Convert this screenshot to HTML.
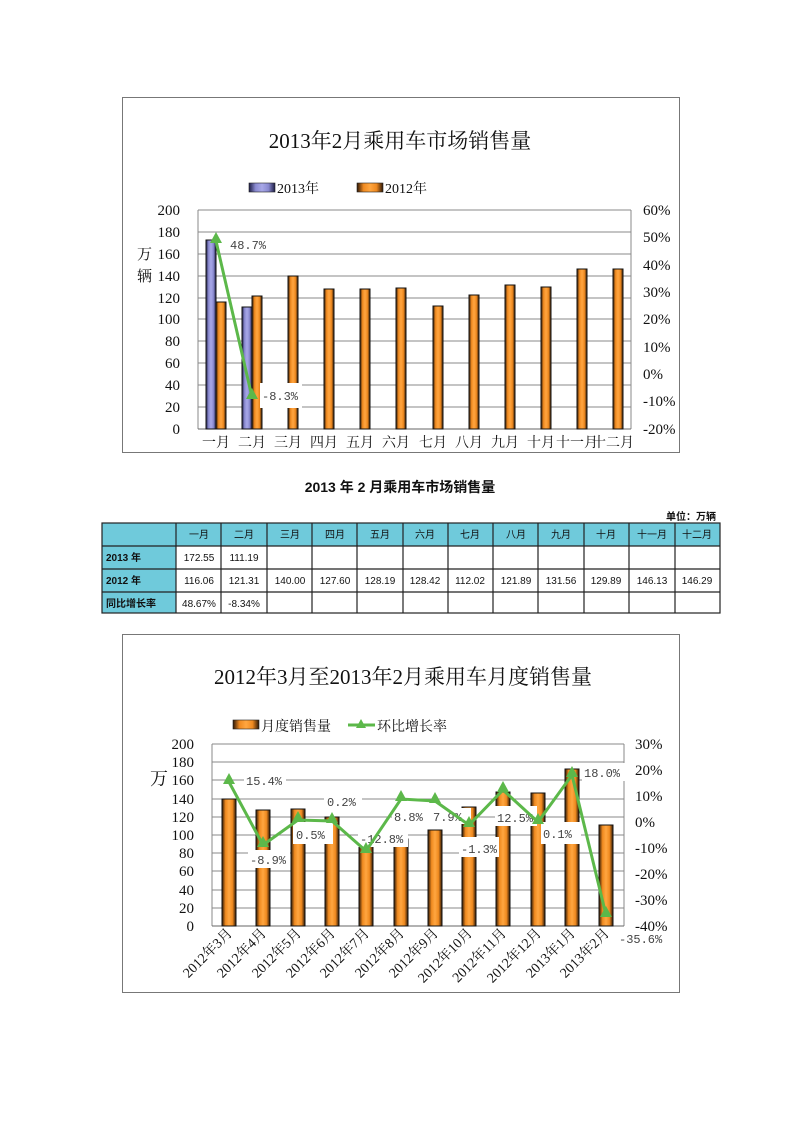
<!DOCTYPE html>
<html><head><meta charset="utf-8"><style>
body{margin:0;background:#fff;}
svg{display:block;}
text{font-family:"Liberation Serif","Noto Serif CJK SC",serif;fill:#111;}
.s,.s text{font-family:"Liberation Sans","Noto Sans CJK SC",sans-serif;}
.m,.m text{font-family:"Liberation Mono",monospace;fill:#444;}
</style></head><body>
<svg width="800" height="1132" viewBox="0 0 800 1132" xmlns="http://www.w3.org/2000/svg">
<defs>
<linearGradient id="og" x1="0" x2="1" y1="0" y2="0"><stop offset="0" stop-color="#2a1606"/><stop offset="0.25" stop-color="#f08a20"/><stop offset="0.5" stop-color="#ffa640"/><stop offset="0.75" stop-color="#f08a20"/><stop offset="1" stop-color="#2a1606"/></linearGradient>
<linearGradient id="bg" x1="0" x2="1" y1="0" y2="0"><stop offset="0" stop-color="#1c1c44"/><stop offset="0.25" stop-color="#8a8ad0"/><stop offset="0.5" stop-color="#a8a8e8"/><stop offset="0.75" stop-color="#8a8ad0"/><stop offset="1" stop-color="#1c1c44"/></linearGradient>
</defs>
<!-- Chart 1 -->
<rect x="122.5" y="97.5" width="557" height="355" fill="#fff" stroke="#777"/>
<text x="400" y="148" font-size="21" text-anchor="middle">2013年2月乘用车市场销售量</text>
<rect x="249" y="183" width="26" height="9" fill="url(#bg)" stroke="#222" stroke-width="0.6"/>
<text x="277" y="193" font-size="14">2013年</text>
<rect x="357" y="183" width="26" height="9" fill="url(#og)" stroke="#222" stroke-width="0.6"/>
<text x="385" y="193" font-size="14">2012年</text>
<g stroke="#888" stroke-width="1">
<line x1="198" x2="631" y1="210" y2="210"/><line x1="198" x2="631" y1="232" y2="232"/><line x1="198" x2="631" y1="254" y2="254"/><line x1="198" x2="631" y1="276" y2="276"/><line x1="198" x2="631" y1="298" y2="298"/><line x1="198" x2="631" y1="319" y2="319"/><line x1="198" x2="631" y1="341" y2="341"/><line x1="198" x2="631" y1="363" y2="363"/><line x1="198" x2="631" y1="385" y2="385"/><line x1="198" x2="631" y1="407" y2="407"/>
<line x1="198" x2="198" y1="210" y2="429"/><line x1="631" x2="631" y1="210" y2="429"/>
</g>
<line x1="198" x2="631" y1="429" y2="429" stroke="#666"/>
<g stroke="#111" stroke-width="1">
<rect x="206" y="240" width="10" height="189" fill="url(#bg)"/>
<rect x="242" y="307" width="10" height="122" fill="url(#bg)"/>
<rect x="216" y="302" width="10" height="127" fill="url(#og)"/>
<rect x="252" y="296" width="10" height="133" fill="url(#og)"/>
<rect x="288" y="276" width="10" height="153" fill="url(#og)"/>
<rect x="324" y="289" width="10" height="140" fill="url(#og)"/>
<rect x="360" y="289" width="10" height="140" fill="url(#og)"/>
<rect x="396" y="288" width="10" height="141" fill="url(#og)"/>
<rect x="433" y="306" width="10" height="123" fill="url(#og)"/>
<rect x="469" y="295" width="10" height="134" fill="url(#og)"/>
<rect x="505" y="285" width="10" height="144" fill="url(#og)"/>
<rect x="541" y="287" width="10" height="142" fill="url(#og)"/>
<rect x="577" y="269" width="10" height="160" fill="url(#og)"/>
<rect x="613" y="269" width="10" height="160" fill="url(#og)"/>
</g>
<rect x="226" y="236" width="48" height="16" fill="#fff"/>
<text x="230" y="249" font-size="12" class="m">48.7%</text>
<rect x="260" y="383" width="42" height="25" fill="#fff"/>
<text x="262" y="400" font-size="12" class="m">-8.3%</text>
<polyline points="216,241 252,397" fill="none" stroke="#5cb84a" stroke-width="3"/>
<polygon points="216,232 222,243 210,243" fill="#5cb84a"/>
<polygon points="252,388 258,399 246,399" fill="#5cb84a"/>
<g font-size="15" text-anchor="end">
<text x="180" y="215">200</text><text x="180" y="237">180</text><text x="180" y="259">160</text><text x="180" y="281">140</text><text x="180" y="303">120</text><text x="180" y="324">100</text><text x="180" y="346">80</text><text x="180" y="368">60</text><text x="180" y="390">40</text><text x="180" y="412">20</text><text x="180" y="434">0</text>
</g>
<text x="137" y="259" font-size="15">万</text><text x="137" y="281" font-size="15">辆</text>
<g font-size="15">
<text x="643" y="215">60%</text><text x="643" y="242">50%</text><text x="643" y="270">40%</text><text x="643" y="297">30%</text><text x="643" y="324">20%</text><text x="643" y="352">10%</text><text x="643" y="379">0%</text><text x="643" y="406">-10%</text><text x="643" y="434">-20%</text>
</g>
<g font-size="14" text-anchor="middle">
<text x="216" y="447">一月</text><text x="252" y="447">二月</text><text x="288" y="447">三月</text><text x="324" y="447">四月</text><text x="360" y="447">五月</text><text x="396" y="447">六月</text><text x="433" y="447">七月</text><text x="469" y="447">八月</text><text x="505" y="447">九月</text><text x="541" y="447">十月</text><text x="577" y="447">十一月</text><text x="613" y="447">十二月</text>
</g>
<!-- Table -->
<text x="400" y="492" font-size="14" font-weight="bold" text-anchor="middle" class="s">2013 年 2 月乘用车市场销售量</text>
<text x="716" y="520" font-size="10" font-weight="bold" text-anchor="end" class="s">单位：万辆</text>
<rect x="102" y="523" width="618" height="23" fill="#6fcadb"/>
<rect x="102" y="546" width="74" height="67" fill="#6fcadb"/>
<g stroke="#222" stroke-width="1.2" fill="none">
<rect x="102" y="523" width="618" height="90"/>
<line x1="102" x2="720" y1="546" y2="546"/><line x1="102" x2="720" y1="569" y2="569"/><line x1="102" x2="720" y1="592" y2="592"/>
<line x1="176" x2="176" y1="523" y2="613"/><line x1="221" x2="221" y1="523" y2="613"/><line x1="267" x2="267" y1="523" y2="613"/><line x1="312" x2="312" y1="523" y2="613"/><line x1="357" x2="357" y1="523" y2="613"/><line x1="403" x2="403" y1="523" y2="613"/><line x1="448" x2="448" y1="523" y2="613"/><line x1="493" x2="493" y1="523" y2="613"/><line x1="538" x2="538" y1="523" y2="613"/><line x1="584" x2="584" y1="523" y2="613"/><line x1="629" x2="629" y1="523" y2="613"/><line x1="675" x2="675" y1="523" y2="613"/>
</g>
<g font-size="10" class="s" text-anchor="middle">
<text x="199" y="538">一月</text><text x="244" y="538">二月</text><text x="290" y="538">三月</text><text x="335" y="538">四月</text><text x="380" y="538">五月</text><text x="425" y="538">六月</text><text x="470" y="538">七月</text><text x="516" y="538">八月</text><text x="561" y="538">九月</text><text x="606" y="538">十月</text><text x="652" y="538">十一月</text><text x="697" y="538">十二月</text>
</g>
<g font-size="10" class="s" font-weight="bold">
<text x="106" y="561">2013 年</text><text x="106" y="584">2012 年</text><text x="106" y="607">同比增长率</text>
</g>
<g font-size="10" class="s" text-anchor="middle">
<text x="199" y="561">172.55</text><text x="244" y="561">111.19</text>
<text x="199" y="584">116.06</text><text x="244" y="584">121.31</text><text x="290" y="584">140.00</text><text x="335" y="584">127.60</text><text x="380" y="584">128.19</text><text x="425" y="584">128.42</text><text x="470" y="584">112.02</text><text x="516" y="584">121.89</text><text x="561" y="584">131.56</text><text x="606" y="584">129.89</text><text x="652" y="584">146.13</text><text x="697" y="584">146.29</text>
<text x="199" y="607">48.67%</text><text x="244" y="607">-8.34%</text>
</g>
<!-- Chart 3 -->
<rect x="122.5" y="634.5" width="557" height="358" fill="#fff" stroke="#777"/>
<text x="403" y="684" font-size="21" text-anchor="middle">2012年3月至2013年2月乘用车月度销售量</text>
<rect x="233" y="720" width="26" height="9" fill="url(#og)" stroke="#222" stroke-width="0.6"/>
<text x="261" y="731" font-size="14">月度销售量</text>
<line x1="348" x2="375" y1="725" y2="725" stroke="#5cb84a" stroke-width="3"/>
<polygon points="361,719 366,728 356,728" fill="#5cb84a"/>
<text x="377" y="731" font-size="14">环比增长率</text>
<g stroke="#888" stroke-width="1">
<line x1="212" x2="624" y1="744" y2="744"/><line x1="212" x2="624" y1="762" y2="762"/><line x1="212" x2="624" y1="780" y2="780"/><line x1="212" x2="624" y1="799" y2="799"/><line x1="212" x2="624" y1="817" y2="817"/><line x1="212" x2="624" y1="835" y2="835"/><line x1="212" x2="624" y1="853" y2="853"/><line x1="212" x2="624" y1="871" y2="871"/><line x1="212" x2="624" y1="890" y2="890"/><line x1="212" x2="624" y1="908" y2="908"/>
<line x1="212" x2="212" y1="744" y2="926"/><line x1="624" x2="624" y1="744" y2="926"/>
</g>
<line x1="212" x2="624" y1="926" y2="926" stroke="#666"/>
<g stroke="#111" stroke-width="1">
<rect x="222" y="799" width="14" height="127" fill="url(#og)"/>
<rect x="256" y="810" width="14" height="116" fill="url(#og)"/>
<rect x="291" y="809" width="14" height="117" fill="url(#og)"/>
<rect x="325" y="817" width="14" height="109" fill="url(#og)"/>
<rect x="359" y="846" width="14" height="80" fill="url(#og)"/>
<rect x="394" y="839" width="14" height="87" fill="url(#og)"/>
<rect x="428" y="830" width="14" height="96" fill="url(#og)"/>
<rect x="462" y="807" width="14" height="119" fill="url(#og)"/>
<rect x="496" y="792" width="14" height="134" fill="url(#og)"/>
<rect x="531" y="793" width="14" height="133" fill="url(#og)"/>
<rect x="565" y="769" width="14" height="157" fill="url(#og)"/>
<rect x="599" y="825" width="14" height="101" fill="url(#og)"/>
</g>
<g fill="#fff">
<rect x="244" y="771" width="42" height="18"/><rect x="248" y="850" width="42" height="18"/><rect x="293" y="822" width="40" height="22"/><rect x="324" y="791" width="38" height="20"/><rect x="358" y="827" width="50" height="20"/><rect x="392" y="808" width="40" height="16"/><rect x="431" y="808" width="40" height="16"/><rect x="459" y="837" width="40" height="20"/><rect x="495" y="806" width="42" height="20"/><rect x="541" y="822" width="40" height="22"/><rect x="582" y="763" width="44" height="18"/><rect x="617" y="930" width="44" height="16"/>
</g>
<g font-size="12" class="m">
<text x="246" y="785">15.4%</text><text x="250" y="864">-8.9%</text><text x="296" y="839">0.5%</text><text x="327" y="806">0.2%</text><text x="360" y="843">-12.8%</text><text x="394" y="821">8.8%</text><text x="433" y="821">7.9%</text><text x="461" y="853">-1.3%</text><text x="497" y="822">12.5%</text><text x="543" y="838">0.1%</text><text x="584" y="777">18.0%</text><text x="619" y="943">-35.6%</text>
</g>
<polyline points="229,782 263,845 298,820 332,821 366,851 401,799 435,801 469,825 503,790 538,822 572,775 606,915" fill="none" stroke="#5cb84a" stroke-width="3"/>
<g fill="#5cb84a">
<polygon points="229,773 235,784 223,784"/><polygon points="263,836 269,847 257,847"/><polygon points="298,811 304,822 292,822"/><polygon points="332,812 338,823 326,823"/><polygon points="366,842 372,853 360,853"/><polygon points="401,790 407,801 395,801"/><polygon points="435,792 441,803 429,803"/><polygon points="469,816 475,827 463,827"/><polygon points="503,781 509,792 497,792"/><polygon points="538,813 544,824 532,824"/><polygon points="572,766 578,777 566,777"/><polygon points="606,906 612,917 600,917"/>
</g>
<g font-size="15" text-anchor="end">
<text x="194" y="749">200</text><text x="194" y="767">180</text><text x="194" y="785">160</text><text x="194" y="804">140</text><text x="194" y="822">120</text><text x="194" y="840">100</text><text x="194" y="858">80</text><text x="194" y="876">60</text><text x="194" y="895">40</text><text x="194" y="913">20</text><text x="194" y="931">0</text>
</g>
<text x="150" y="785" font-size="18">万</text>
<g font-size="15">
<text x="635" y="749">30%</text><text x="635" y="775">20%</text><text x="635" y="801">10%</text><text x="635" y="827">0%</text><text x="635" y="853">-10%</text><text x="635" y="879">-20%</text><text x="635" y="905">-30%</text><text x="635" y="931">-40%</text>
</g>
<g font-size="14" text-anchor="end">
<text transform="translate(233,934) rotate(-45)">2012年3月</text><text transform="translate(267,934) rotate(-45)">2012年4月</text><text transform="translate(302,934) rotate(-45)">2012年5月</text><text transform="translate(336,934) rotate(-45)">2012年6月</text><text transform="translate(370,934) rotate(-45)">2012年7月</text><text transform="translate(405,934) rotate(-45)">2012年8月</text><text transform="translate(439,934) rotate(-45)">2012年9月</text><text transform="translate(473,934) rotate(-45)">2012年10月</text><text transform="translate(507,934) rotate(-45)">2012年11月</text><text transform="translate(542,934) rotate(-45)">2012年12月</text><text transform="translate(576,934) rotate(-45)">2013年1月</text><text transform="translate(610,934) rotate(-45)">2013年2月</text>
</g>
</svg>
</body></html>
